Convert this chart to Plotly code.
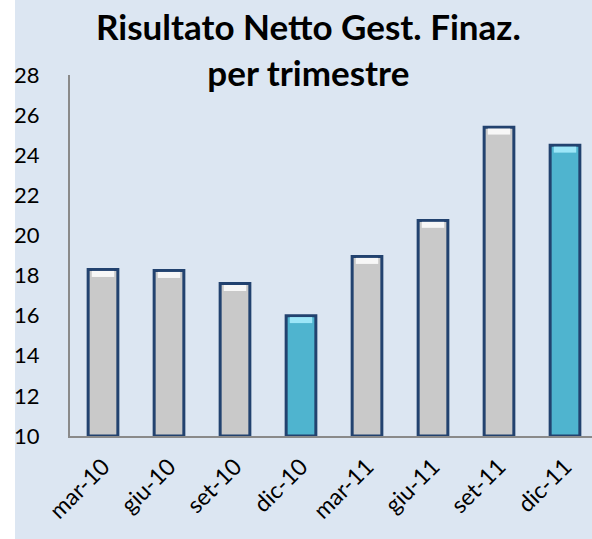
import plotly.graph_objects as go

categories = ["mar-10", "giu-10", "set-10", "dic-10", "mar-11", "giu-11", "set-11", "dic-11"]
values = [18.3, 18.25, 17.6, 16.0, 18.95, 20.75, 25.4, 24.5]
highlight = [False, False, False, True, False, False, False, True]
y_ticks = [10, 12, 14, 16, 18, 20, 22, 24, 26, 28]
title_text = "<b>Risultato Netto Gest. Finaz.<br>per trimestre</b>"

GRAY = "#C9C9C9"
BLUE = "#4FB4CF"
BORDER = "#22426F"
BG = "#DCE6F2"
FONT = "Lato"

colors = [BLUE if h else GRAY for h in highlight]
hl_colors = ["rgba(170,238,255,0.85)" if h else "rgba(255,255,255,0.85)" for h in highlight]

W, H = 592, 539
ML, MR, MT, MB = 70, 0, 75, 103
plot_w = W - ML - MR
plot_h = H - MT - MB
cat_px = 66.0
x_range = [-0.5, -0.5 + plot_w / cat_px]

fig = go.Figure()
fig.add_trace(go.Bar(
    x=list(range(len(categories))), y=[v - 10 for v in values], base=10,
    width=0.45,
    marker=dict(color=colors, line=dict(color=BORDER, width=3)),
    hoverinfo="skip",
))
# top highlight (bevel)
hl_h = 0.3
fig.add_trace(go.Bar(
    x=list(range(len(categories))), y=[hl_h] * len(values),
    base=[v - hl_h - 0.07 for v in values],
    width=0.34,
    marker=dict(color=hl_colors, line=dict(width=0)),
    hoverinfo="skip",
))

strip_px = 15
fig.add_shape(type="rect", xref="paper", yref="paper",
              x0=-ML / plot_w - 0.02, x1=(strip_px - ML) / plot_w,
              y0=-0.5, y1=1.5, fillcolor="white", line=dict(width=0), layer="below")

fig.add_annotation(
    text=title_text, xref="paper", yref="paper",
    x=(308 - ML) / plot_w, xanchor="center",
    y=1 + (MT - 49) / plot_h, yanchor="middle",
    showarrow=False, align="center",
    font=dict(family=FONT, size=35, color="#000000"),
)

fig.update_layout(
    width=W, height=H, autosize=False,
    margin=dict(l=ML, r=MR, t=MT, b=MB, pad=0),
    paper_bgcolor=BG, plot_bgcolor="rgba(0,0,0,0)",
    barmode="overlay", showlegend=False,
    font=dict(family=FONT, color="#000000"),
    xaxis=dict(
        range=x_range, tickmode="array", tickvals=list(range(len(categories))),
        ticktext=categories, tickangle=-45, tickfont=dict(size=23, family=FONT),
        showline=True, linecolor="#8A8A8A", linewidth=2, showgrid=False, zeroline=False,
        ticks="", ticklabelstandoff=6, fixedrange=True,
    ),
    yaxis=dict(
        range=[10, 28], tickmode="array", tickvals=y_ticks,
        tickfont=dict(size=22, family=FONT),
        showline=True, linecolor="#8A8A8A", linewidth=2, showgrid=False, zeroline=False,
        ticks="", ticklabelstandoff=24, fixedrange=True,
    ),
)

fig.write_html("out.html", config={"displayModeBar": False},
               post_script="document.body.style.margin='0';document.body.style.overflow='hidden';")
